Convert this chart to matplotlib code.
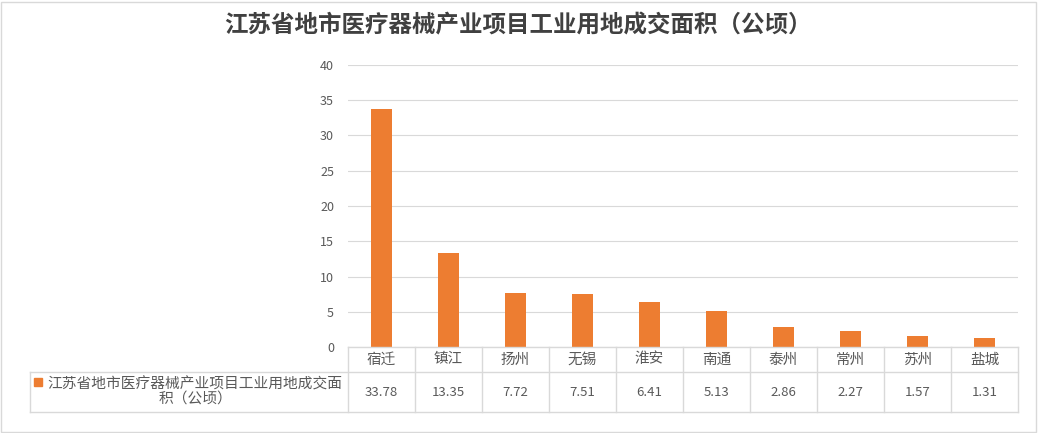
import numpy as np
import matplotlib.pyplot as plt
from matplotlib.patches import Rectangle

plt.rcParams['font.family'] = ['Noto Sans CJK SC', 'DejaVu Sans']

cities = ["宿迁", "镇江", "扬州", "无锡", "淮安", "南通", "泰州", "常州", "苏州", "盐城"]
area = [33.78, 13.35, 7.72, 7.51, 6.41, 5.13, 2.86, 2.27, 1.57, 1.31]
series_name = "江苏省地市医疗器械产业项目工业用地成交面积（公顷）"
yticks = [0, 5, 10, 15, 20, 25, 30, 35, 40]

W, H = 1038, 433
orange = "#ED7D31"
grid = "#D9D9D9"
txt = "#595959"

fig = plt.figure(figsize=(W / 100, H / 100), dpi=100)

# figure border
fig.add_artist(Rectangle((1 / W, 1 / H), (W - 3) / W, (H - 3) / H, transform=fig.transFigure,
                         fill=False, edgecolor=grid, lw=1))

fig.text(518 / W, 1 - 25 / H, series_name, ha="center", va="center",
         fontsize=16.9, fontweight="bold", color="#404040")

# main plot
x0, x1, ytop, ybot = 348, 1018, 65, 347
ax = fig.add_axes([x0 / W, (H - ybot) / H, (x1 - x0) / W, (ybot - ytop) / H])
x = np.arange(len(cities))
ax.bar(x, area, width=0.31, color=orange, zorder=3)
ax.set_xlim(-0.5, len(cities) - 0.5)
ax.set_ylim(0, 40)
ax.set_yticks(yticks)
ax.set_xticks([])
ax.yaxis.grid(True, color=grid, lw=0.8, zorder=0)
for s in ax.spines.values():
    s.set_visible(False)
ax.tick_params(axis="y", length=0, pad=10, labelsize=9, labelcolor=txt)

# data table below
tx0, tmid, tbot = 30, 372, 412
n = len(cities)
tab = fig.add_axes([0, 0, 1, 1], facecolor="none")
tab.set_xlim(0, W)
tab.set_ylim(H, 0)
tab.axis("off")
colw = (x1 - x0) / n
kw = dict(color=grid, lw=1)
tab.plot([x0, x1], [ybot, ybot], **kw)
tab.plot([tx0, x1], [tmid, tmid], **kw)
tab.plot([tx0, x1], [tbot, tbot], **kw)
tab.plot([tx0, tx0], [tmid, tbot], **kw)
for i in range(n + 1):
    xx = x0 + i * colw
    tab.plot([xx, xx], [ybot, tbot], **kw)
for i, (c, v) in enumerate(zip(cities, area)):
    cx = x0 + (i + 0.5) * colw
    tab.text(cx, (ybot + tmid) / 2, c, ha="center", va="center", fontsize=10.5, color=txt)
    tab.text(cx, (tmid + tbot) / 2, f"{v:.2f}", ha="center", va="center", fontsize=9.5, color=txt)

tab.add_patch(Rectangle((34, 378), 8, 8, color=orange))
tab.text((tx0 + x0) / 2 + 6, (tmid + tbot) / 2, series_name[:20] + "\n" + series_name[20:],
         ha="center", va="center", fontsize=10.6, color=txt, linespacing=1.05)

fig.savefig("out.png", dpi=100)
